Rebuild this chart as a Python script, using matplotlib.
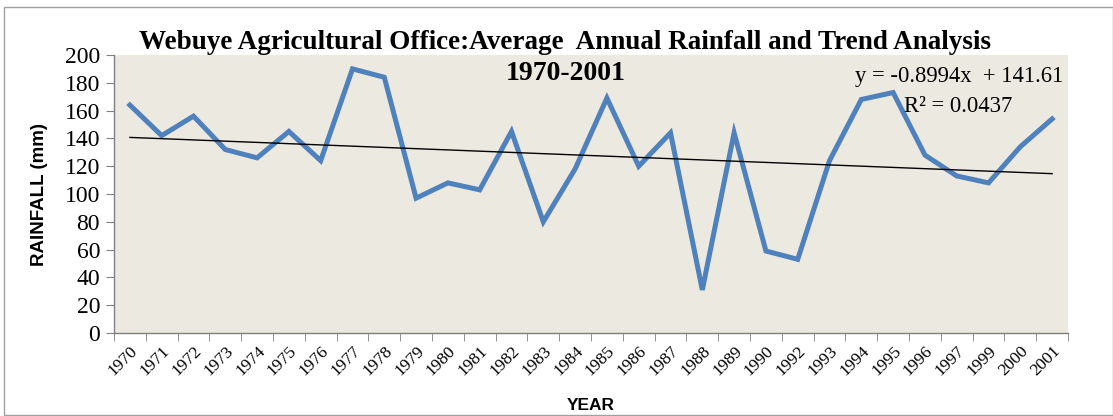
import matplotlib
matplotlib.use("Agg")
import matplotlib.pyplot as plt
import numpy as np
from matplotlib.patches import Rectangle

years = ["1970", "1971", "1972", "1973", "1974", "1975", "1976", "1977", "1978", "1979",
         "1980", "1981", "1982", "1983", "1984", "1985", "1986", "1987", "1988", "1989",
         "1990", "1992", "1993", "1994", "1995", "1996", "1997", "1999", "2000", "2001"]
rainfall = [164, 142, 156, 132, 126, 145, 124, 190, 184, 97,
            108, 103, 145, 80, 118, 169, 120, 144, 31, 144,
            59, 53, 124, 168, 173, 128, 113, 108, 134, 154]
trend_slope = -0.8994
trend_intercept = 141.61
r_squared = 0.0437

fig = plt.figure(figsize=(11.13, 4.16), dpi=100)
fig.patch.set_facecolor("white")
fig.add_artist(Rectangle((0.004, 0.003), 0.996, 0.98, transform=fig.transFigure,
                         fill=False, edgecolor="#A0A0A0", linewidth=1.0))

ax = fig.add_axes([0.1024, 0.1995, 0.8572, 0.6683])
ax.set_facecolor("#ECE9E0")

x = np.arange(1, len(years) + 1)
ax.plot(x, rainfall, color="#4F81BD", linewidth=3.6, solid_joinstyle="miter", zorder=3)
ax.plot(x, trend_slope * x + trend_intercept, color="black", linewidth=1.0, zorder=4)

ax.set_xlim(0.5, len(years) + 0.5)
ax.set_ylim(0, 200)
ax.set_yticks(range(0, 201, 20))
ax.set_xticks(x)
ax.set_xticklabels(years, rotation=45, ha="right", va="top", rotation_mode="anchor",
                   fontfamily="Liberation Serif", fontsize=12.5)
ax.set_xticks(np.arange(0.5, len(years) + 1, 1), minor=True)
ax.tick_params(axis="x", which="major", length=0, pad=7)
ax.tick_params(axis="x", which="minor", length=6, color="#808080")
ax.tick_params(axis="y", length=6, color="#808080", labelsize=17, pad=4)
for lbl in ax.get_yticklabels():
    lbl.set_fontfamily("Liberation Serif")

for s in ["top", "right"]:
    ax.spines[s].set_visible(False)
for s in ["left", "bottom"]:
    ax.spines[s].set_color("#808080")
    ax.spines[s].set_linewidth(1.0)

ax.set_ylabel("RAINFALL (mm)", fontfamily="Liberation Sans", fontweight="bold",
              fontsize=13.5, labelpad=12)
ax.set_xlabel("YEAR", fontfamily="Liberation Sans", fontweight="bold", fontsize=12.5,
              labelpad=14)

fig.text(0.508, 0.897, "Webuye Agricultural Office:Average  Annual Rainfall and Trend Analysis",
         ha="center", va="center", fontfamily="Liberation Serif", fontweight="bold", fontsize=19.5)
fig.text(0.508, 0.824, "1970-2001", ha="center", va="center",
         fontfamily="Liberation Serif", fontweight="bold", fontsize=20)

ax.text(0.9948, 0.921, "y = -0.8994x  + 141.61", transform=ax.transAxes, ha="right",
        va="center", fontfamily="Liberation Serif", fontsize=16.3)
ax.text(0.885, 0.813, "R\u00b2 = 0.0437", transform=ax.transAxes, ha="center",
        va="center", fontfamily="Liberation Serif", fontsize=16.3)

fig.savefig("out.png", dpi=100)
